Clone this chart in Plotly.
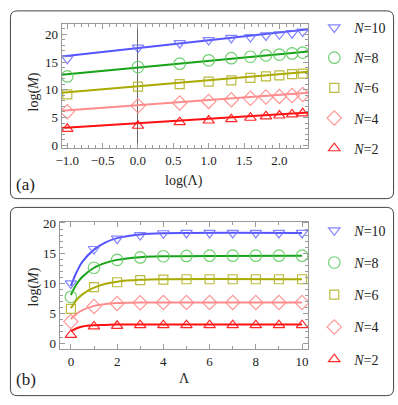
import plotly.graph_objects as go

W, H = 398, 405

# ---- data ----
labels = ["N=10", "N=8", "N=6", "N=4", "N=2"]

# panel (a): log(Lambda) vs log(M)
loglam_a = [-1.0, 0.0, 0.59, 1.0, 1.32, 1.59, 1.81, 2.0, 2.18, 2.33]
logm_a_n10 = [15.6, 17.6, 18.4, 18.95, 19.35, 19.5, 19.8, 20.0, 20.2, 20.5]
logm_a_n8 = [12.4, 14.1, 14.7, 15.3, 15.7, 15.95, 16.2, 16.35, 16.55, 16.7]
logm_a_n6 = [9.15, 10.55, 11.0, 11.45, 11.7, 12.15, 12.4, 12.6, 12.8, 12.9]
logm_a_n4 = [6.05, 7.1, 7.6, 7.9, 8.2, 8.45, 8.7, 8.8, 8.95, 9.15]
logm_a_n2 = [2.95, 3.5, 4.15, 4.45, 4.7, 4.95, 5.2, 5.35, 5.55, 5.75]

# fitted straight lines in (a), read at both frame edges
fit_x_a = [-1.08, 2.41]
fit_a_n10 = [16.0, 20.9]
fit_a_n8 = [12.7, 16.9]
fit_a_n6 = [9.45, 13.25]
fit_a_n4 = [6.2, 9.45]
fit_a_n2 = [3.1, 5.9]

# panel (b): Lambda vs log(M)
lam_b = [0, 1, 2, 3, 4, 5, 6, 7, 8, 9, 10]
logm_b_n10 = [10.0, 15.7, 17.4, 18.0, 18.3, 18.35, 18.35, 18.35, 18.35, 18.35, 18.35]
logm_b_n8 = [7.8, 12.6, 13.9, 14.3, 14.5, 14.55, 14.6, 14.6, 14.6, 14.6, 14.6]
logm_b_n6 = [5.8, 9.4, 10.2, 10.55, 10.65, 10.7, 10.7, 10.7, 10.7, 10.7, 10.7]
logm_b_n4 = [3.7, 6.2, 6.7, 6.8, 6.85, 6.85, 6.85, 6.85, 6.85, 6.85, 6.85]
logm_b_n2 = [1.5, 2.9, 3.0, 3.1, 3.1, 3.1, 3.1, 3.1, 3.1, 3.1, 3.1]

# fitted curves in (b)
fit_x_b = [0, 0.25, 0.5, 1, 1.5, 2, 3, 4, 10]
fit_b_n10 = [9.6, 11.9, 13.6, 15.6, 16.8, 17.5, 18.1, 18.3, 18.35]
fit_b_n8 = [8.1, 9.9, 11.1, 12.6, 13.4, 13.9, 14.35, 14.5, 14.6]
fit_b_n6 = [5.9, 7.3, 8.2, 9.3, 9.95, 10.3, 10.6, 10.7, 10.7]
fit_b_n4 = [4.1, 5.0, 5.6, 6.3, 6.6, 6.75, 6.85, 6.85, 6.85]
fit_b_n2 = [2.1, 2.6, 2.9, 3.1, 3.15, 3.2, 3.2, 3.2, 3.2]

pts_a = [logm_a_n10, logm_a_n8, logm_a_n6, logm_a_n4, logm_a_n2]
lines_a = [fit_a_n10, fit_a_n8, fit_a_n6, fit_a_n4, fit_a_n2]
pts_b = [logm_b_n10, logm_b_n8, logm_b_n6, logm_b_n4, logm_b_n2]
lines_b = [fit_b_n10, fit_b_n8, fit_b_n6, fit_b_n4, fit_b_n2]

# ---- styles ----
symbols = ["triangle-down-open", "circle-open", "square-open", "diamond-open", "triangle-up-open"]
msizes = [10, 11.5, 9, 11, 10]
mcolors = ["rgba(110,110,255,0.85)", "rgba(90,200,90,0.85)", "rgba(175,175,30,0.85)",
           "rgba(255,140,140,0.9)", "rgba(255,30,30,0.95)"]
lcolors = ["#5555ff", "#17a317", "#aaaa00", "#ff8c8c", "#ff1010"]

SERIF = "Liberation Serif"
FRAME = "#9a9a9a"
TXT = "#222222"


def px(x):
    return x / W


def py(y):
    return 1 - y / H


fig = go.Figure()

for i in range(5):
    fig.add_trace(go.Scatter(x=fit_x_a, y=lines_a[i], mode="lines",
                             line=dict(color=lcolors[i], width=2),
                             xaxis="x", yaxis="y", showlegend=False))
    fig.add_trace(go.Scatter(x=loglam_a, y=pts_a[i], mode="markers",
                             marker=dict(symbol=symbols[i], size=msizes[i],
                                         color=mcolors[i], line=dict(width=1.2)),
                             xaxis="x", yaxis="y", showlegend=False))
    fig.add_trace(go.Scatter(x=fit_x_b, y=lines_b[i], mode="lines", line_shape="spline",
                             line=dict(color=lcolors[i], width=2),
                             xaxis="x2", yaxis="y2", showlegend=False))
    fig.add_trace(go.Scatter(x=lam_b, y=pts_b[i], mode="markers",
                             marker=dict(symbol=symbols[i], size=msizes[i],
                                         color=mcolors[i], line=dict(width=1.2)),
                             xaxis="x2", yaxis="y2", showlegend=False))

# legend entries (markers only)
for i in range(5):
    name = "<i>N</i>=" + labels[i].split("=")[1]
    for leg, xa, ya in [("legend", "x", "y"), ("legend2", "x2", "y2")]:
        fig.add_trace(go.Scatter(x=[None], y=[None], mode="markers", name=name,
                                 marker=dict(symbol=symbols[i], size=msizes[i],
                                             color=mcolors[i], line=dict(width=1.2)),
                                 xaxis=xa, yaxis=ya, legend=leg,
                                 legendgroup=leg + str(i), showlegend=True))

axis_common = dict(showline=True, linecolor=FRAME, linewidth=1, mirror="ticks",
                   ticks="inside", ticklen=5, tickcolor=FRAME, tickwidth=1,
                   showgrid=False, tickfont=dict(family=SERIF, size=13, color=TXT),
                   zeroline=False, fixedrange=True)

fig.update_layout(
    width=W, height=H, margin=dict(l=0, r=0, t=0, b=0),
    paper_bgcolor="white", plot_bgcolor="white",
    xaxis=dict(axis_common, domain=[px(56.5), px(307)], range=[-1.08, 2.41],
               tick0=-1, dtick=0.5, tickformat=".1f", anchor="y",
               zeroline=True, zerolinecolor="#666666", zerolinewidth=1,
               minor=dict(ticks="inside", ticklen=3, dtick=0.1, tickcolor=FRAME)),
    yaxis=dict(axis_common, domain=[py(146), py(18.5)], range=[-0.58, 21.85],
               tick0=0, dtick=5, anchor="x",
               minor=dict(ticks="inside", ticklen=3, dtick=1, tickcolor=FRAME)),
    xaxis2=dict(axis_common, domain=[px(54.5), px(306.7)], range=[-0.485, 10.26],
                tick0=0, dtick=2, anchor="y2",
                minor=dict(ticks="inside", ticklen=3, dtick=1, tickcolor=FRAME)),
    yaxis2=dict(axis_common, domain=[py(351.7), py(221)], range=[-0.84, 20.24],
                tick0=0, dtick=5, anchor="x2",
                minor=dict(ticks="inside", ticklen=3, dtick=1, tickcolor=FRAME)),
    legend=dict(x=px(313), y=py(6), xanchor="left", yanchor="top",
                font=dict(family=SERIF, size=14, color=TXT), tracegroupgap=9,
                bgcolor="rgba(0,0,0,0)"),
    legend2=dict(x=px(313), y=py(214), xanchor="left", yanchor="top",
                 font=dict(family=SERIF, size=14, color=TXT), tracegroupgap=11,
                 bgcolor="rgba(0,0,0,0)"),
)


def rounded(x0, y0, x1, y1, r):
    return (f"M {px(x0 + r)} {py(y0)} L {px(x1 - r)} {py(y0)} "
            f"Q {px(x1)} {py(y0)} {px(x1)} {py(y0 + r)} L {px(x1)} {py(y1 - r)} "
            f"Q {px(x1)} {py(y1)} {px(x1 - r)} {py(y1)} L {px(x0 + r)} {py(y1)} "
            f"Q {px(x0)} {py(y1)} {px(x0)} {py(y1 - r)} L {px(x0)} {py(y0 + r)} "
            f"Q {px(x0)} {py(y0)} {px(x0 + r)} {py(y0)} Z")


for box in [(4.5, 5, 393.5, 197.5), (4.5, 206.5, 393.5, 399.5)]:
    fig.add_shape(type="path", path=rounded(*box, 7), xref="paper", yref="paper",
                  line=dict(color="#444444", width=1), layer="below")

annots = [
    ("log(Λ)", 181, 179, 0),
    ("log(<i>M</i>)", 28, 88, -90),
    ("(a)", 20, 183, 0),
    ("Λ", 181, 382, 0),
    ("log(<i>M</i>)", 28, 288, -90),
    ("(b)", 20, 383, 0),
]
for text, x, y, ang in annots:
    size = 17 if text.startswith("(") and len(text) == 3 else 14
    fig.add_annotation(text=text, x=px(x), y=py(y), xref="paper", yref="paper",
                       showarrow=False, textangle=ang, xanchor="center", yanchor="middle",
                       font=dict(family=SERIF, size=size, color=TXT))

# page body has an 8px default margin; remove it so the figure sits at the corner
fig.write_html("out.html", config={"displayModeBar": False},
               post_script="document.body.style.margin='0';")
